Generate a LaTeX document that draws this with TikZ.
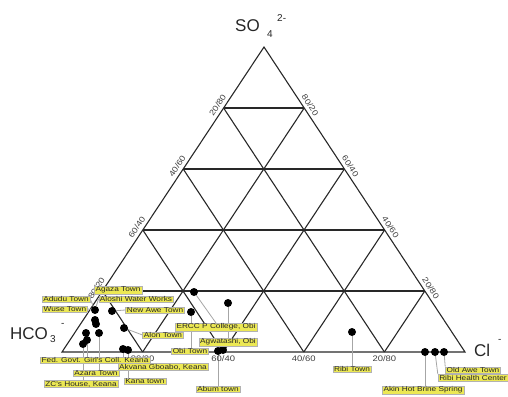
\documentclass[tikz,border=0pt]{standalone}
\usepackage{fontspec}
\setmainfont{Liberation Sans}
\newfontfamily\widefont[FakeStretch=1.18]{Liberation Sans}
\usetikzlibrary{calc}
\definecolor{lblyellow}{RGB}{236,232,84}
\definecolor{gridcol}{RGB}{40,40,40}
\pgfdeclarelayer{gridlayer}
\pgfdeclarelayer{leaderlayer}
\pgfsetlayers{gridlayer,leaderlayer,main}
\begin{document}
\begin{tikzpicture}[x=1pt,y=-1pt,
  gridline/.style={draw=gridcol,line width=1.1pt},
  tick/.style={font=\widefont\fontsize{8}{9}\selectfont,text=black!75,inner sep=0pt},
  corner/.style={font=\fontsize{17}{18}\selectfont,text=black!85,inner sep=0pt},
  cornersmall/.style={font=\fontsize{10}{11}\selectfont,text=black!85,inner sep=0pt},
  sample/.style={circle,fill=black,inner sep=0pt,minimum size=8pt},
  tag/.style={fill=lblyellow,draw=black!30,line width=0.3pt,font=\widefont\fontsize{7}{7.5}\selectfont,inner xsep=1.3pt,inner ysep=0.6pt,text=black!85},
  leader/.style={draw=black!35,line width=0.8pt}]
\useasboundingbox (0,0) rectangle (508,396);
\coordinate (A) at (62,352);
\coordinate (B) at (465,352);
\coordinate (C) at (264,47);
% grid
\begin{pgfonlayer}{gridlayer}
\foreach \f in {0.2,0.4,0.6,0.8}{
  \draw[gridline] ($(A)!\f!(C)$) -- ($(B)!\f!(C)$);
  \draw[gridline] ($(A)!\f!(B)$) -- ($(C)!\f!(B)$);
  \draw[gridline] ($(B)!\f!(A)$) -- ($(C)!\f!(A)$);
}
\draw[gridline,line join=miter] (A) -- (B) -- (C) -- cycle;
\end{pgfonlayer}
% tick labels left
\node[tick,rotate=56.5] (tl1) at ($(A)!0.2!(C)+(-6,-3)$) {80/20};
\node[tick,rotate=56.5] (tl2) at ($(A)!0.4!(C)+(-6,-3)$) {60/40};
\node[tick,rotate=56.5] (tl3) at ($(A)!0.6!(C)+(-6,-3)$) {40/60};
\node[tick,rotate=56.5] (tl4) at ($(A)!0.8!(C)+(-6,-3)$) {20/80};
% tick labels right
\node[tick,rotate=-56.5] (tr1) at ($(B)!0.2!(C)+(6,-3)$) {20/80};
\node[tick,rotate=-56.5] (tr2) at ($(B)!0.4!(C)+(6,-3)$) {40/60};
\node[tick,rotate=-56.5] (tr3) at ($(B)!0.6!(C)+(6,-3)$) {60/40};
\node[tick,rotate=-56.5] (tr4) at ($(B)!0.8!(C)+(6,-3)$) {80/20};
% tick labels bottom
\node[tick,anchor=north] (tb1) at ($(A)!0.2!(B)+(0,3)$) {80/20};
\node[tick,anchor=north] (tb2) at ($(A)!0.4!(B)+(0,3)$) {60/40};
\node[tick,anchor=north] (tb3) at ($(A)!0.6!(B)+(0,3)$) {40/60};
\node[tick,anchor=north] (tb4) at ($(A)!0.8!(B)+(0,3)$) {20/80};
% corner labels
\node[corner,anchor=base west] (so) at (235,32) {SO};
\node[cornersmall,anchor=base west] (sosub) at (267,37.5) {4};
\node[cornersmall,anchor=base west] (sosup) at (277,22) {2-};
\node[corner,anchor=base west] (hco) at (10,339) {HCO};
\node[cornersmall,anchor=base west] (hcosub) at (50,342) {3};
\node[cornersmall,anchor=base west] (hcosup) at (61,326) {-};
\node[corner,anchor=base west] (cl) at (474,356) {Cl};
\node[cornersmall,anchor=base west] (clsup) at (498,342) {-};
% sample points
\node[sample] (p1) at (95,310) {};
\node[sample] (p2) at (112,311) {};
\node[sample] (p3) at (95,320) {};
\node[sample] (p3b) at (96,324) {};
\node[sample] (p4) at (124,328) {};
\node[sample] (p5) at (86,333) {};
\node[sample] (p6) at (99,333) {};
\node[sample] (p7) at (87,340) {};
\node[sample] (p8) at (83,344) {};
\node[sample] (p9) at (123,349) {};
\node[sample] (p10) at (128,350) {};
\node[sample] (p11) at (194,292) {};
\node[sample] (p12) at (228,303) {};
\node[sample] (p13) at (191,312) {};
\node[sample] (p14) at (218,351) {};
\node[sample] (p15) at (223,350) {};
\node[sample] (p16) at (352,332) {};
\node[sample] (p17) at (425,352) {};
\node[sample] (p18) at (435,352) {};
\node[sample] (p19) at (444,352) {};
% labels
\node[tag] (adudu) at (66,299) {Adudu Town};
\node[tag] (wuse) at (65,309) {Wuse Town};
\node[tag] (agaza) at (118,290) {Agaza Town};
\node[tag] (aloshi) at (136,299) {Aloshi Water Works};
\node[tag] (newawe) at (155,310) {New Awe Town};
\node[tag] (alon) at (163,335) {Alon Town};
\node[tag] (ercc) at (216,327) {ERCC P College, Obi};
\node[tag] (agwa) at (228,342) {Agwatashi, Obi};
\node[tag] (obi) at (190,351) {Obi Town};
\node[tag] (fed) at (95,360) {Fed. Govt. Girl's Coll. Keana};
\node[tag] (akvana) at (163,367) {Akvana Gboabo, Keana};
\node[tag] (azara) at (96,373) {Azara Town};
\node[tag] (zc) at (81,384) {ZC's House, Keana};
\node[tag] (kana) at (145,381) {Kana town};
\node[tag] (abum) at (218,389) {Abum town};
\node[tag] (ribi) at (352,369) {Ribi Town};
\node[tag] (oldawe) at (473,370) {Old Awe Town};
\node[tag] (ribihc) at (473,377.5) {Ribi Health Center};
\node[tag] (akin) at (423,390) {Akin Hot Brine Spring};
% leaders
\begin{pgfonlayer}{leaderlayer}
\draw[leader] (adudu.east) -- (p1);
\draw[leader] (wuse.east) -- (p1);
\draw[leader] (aloshi.west) -- (p1);
\draw[leader] (newawe.west) -- (p2);
\draw[leader] (alon.west) -- (p4);
\draw[leader] (ercc.north) -- (p11);
\draw[leader] (agwa.north -| p12) -- (p12);
\draw[leader] (obi.north -| p13) -- (p13);
\draw[leader] (abum.north -| p14) -- (p14);
\draw[leader] (fed.north -| p7) -- (p7);
\draw[leader] (azara.north -| p6) -- (p6);
\draw[leader] (zc.north -| p8) -- (p8);
\draw[leader] (akvana.north -| p9) -- (p9);
\draw[leader] (kana.north -| p10) -- (p10);
\draw[leader] (ribi.north -| p16) -- (p16);
\draw[leader] (akin.north -| p17) -- (p17);
\draw[leader] (ribihc.north west) -- (p18);
\draw[leader] (oldawe.north west) -- (p19);
\end{pgfonlayer}
\end{tikzpicture}
\end{document}
